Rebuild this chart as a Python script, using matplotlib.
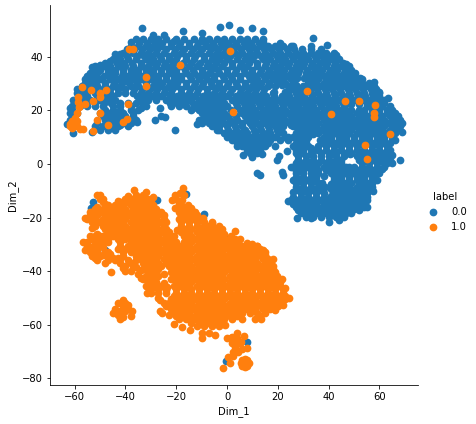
import matplotlib
matplotlib.use("Agg")
import matplotlib.pyplot as plt

# values: edge points are traced one by one, the dense
# inside of each cloud is listed row by row (Dim_2, [Dim_1 values])
blue_edge = [
    (-59, 28), (-53, 36), (-50, 37), (-46, 38.4), (-42, 41), (-38, 45.5), (-33.4, 50.6), (-29, 48), (-25, 48),
    (-21, 46), (-17.3, 49.7), (-10, 49), (-2.8, 51), (0.8, 52), (5, 50), (10, 50.6), (14, 49.6), (14, 45.5),
    (21, 45), (26, 44), (34, 47), (33, 44), (39.5, 44.4), (43, 40.7), (47, 37.3), (50.4, 34), (52.4, 32),
    (58, 30.6), (60, 27), (63.4, 24.6), (64, 21), (67.3, 18), (69, 12), (66, 9), (65, 3.4), (68, 1.5),
    (65, 0.4), (61, -2), (57.5, -10), (55, -16), (50, -17), (44, -21), (40, -21.6), (33, -20), (27.5, -20),
    (24, -14), (26, -10.4), (25, -1), (28, 1.5), (22, -4), (21.5, -3), (12, -3.5), (12.8, -4), (19.7, 1.5),
    (20.5, 3), (23.6, 5), (19, 6.5), (13.8, 3.7), (10, 2.6), (6.4, 3.4), (4, 6.5), (-0.8, 11.5), (0, 10),
    (-4, 12.7), (-12, 15), (-20.5, 12.7), (-13.4, 21), (-26.4, 21), (-28.3, 16.4), (-24.4, 17.5), (-26, 18),
    (-34, 21), (-35.4, 15.7), (-42, 14.6), (-53, 12), (-60.6, 11.5), (-63, 15), (-62, 21), (-60.6, 24),
    (-27.6, -13.4), (-16, -11.2), (-9, -18.7), (0.4, -28), (15, -34.7), (-0.4, -73.5), (7.9, -66.5),
    (-17.3, -18.3), (-6.3, -25.7), (-52.8, -14.2), (-53.5, -16.4), (-48, -32),
    # places inside the cloud that the rows leave open
    (19, 29), (21.5, 29.5), (20, 31), (18.5, 27), (23, 27), (27.5, 32), (30.5, 32), (30, 29), (27, 29.5),
    (22, 14), (24, 15.5), (22, 11.5), (21, 13), (25, 14.5), (24, 10), (31, 8.5), (36.5, 9), (34, 11), (33, 6),
    (34, 5), (36, 11.5), (38, -4.5), (41, -7.5), (38.5, -8.5), (41, -9.5), (37.5, -7), (41, -12), (48.5, 3.6),
    (48, -1), (49, 22.5), (52, 22.5), (52, 20), (49, 20), (-39, 22.8), (-44, 41), (-48, 37.5),
]
blue_rows = [
    (46.5, [-36, -33, -30, -27, -24, -20, -17, -13, -10, -7, -4, -1, 2, 5, 8, 11, 14]),
    (45.2, [-34.5, -31.5, -28.5, -25.5, -22, -18.5, -15, -11.5, -8.5, -5.5, -2.5, 0.5, 3.5, 6.5, 9.5, 12.5]),
    (44, [-38, -35, -32, -29, -26, -22, -19, -15, -12, -8, -5, -2, 1, 4, 7, 10, 13, 16, 19, 22, 25]),
    (42.8, [-39.5, -36.5, -33.5, -30.5, -27.5, -24, -20.5, -17, -13.5, -10, -6.5, -3.5, -0.5, 2.5, 5.5, 8.5, 11.5, 14.5, 17.5, 20.5, 23.5, 26.5, 29.5, 33, 37]),
    (41.5, [-41, -37, -34, -31, -28, -25, -21, -18, -14, -11, -7, -4, -1, 3, 6, 9, 12, 15, 18, 21, 24, 27, 30, 33, 36, 39, 42]),
    (40.2, [-43, -39.5, -35.5, -32.5, -29.5, -26.5, -23, -19.5, -16, -12.5, -9, -5.5, -2.5, 1, 4.5, 7.5, 10.5, 13.5, 16.5, 19.5, 22.5, 25.5, 28.5, 31.5, 34.5, 37.5, 40.5, 43]),
    (39, [-45, -42, -39, -36, -32, -29, -26, -23, -20, -16, -13, -9, -6, -3, 0, 4, 7, 10, 14, 17, 20, 23, 26, 29, 32, 35, 38, 41, 44]),
    (37.8, [-47, -43.5, -40.5, -37.5, -34, -30.5, -27.5, -24.5, -21, -17.5, -14, -10.5, -7.5, -4.5, -1, 2, 5.5, 8.5, 12, 15.5, 18.5, 21.5, 24.5, 27.5, 30.5, 33.5, 36.5, 39.5, 42.5, 45.5]),
    (36.5, [-52, -49, -46, -43, -40, -37, -34, -31, -28, -25, -22, -18, -15, -12, -8, -5, -2, 2, 5, 8, 12, 15, 18, 21, 24, 27, 30, 33, 36, 39, 42, 45, 48]),
    (35.2, [-52.5, -50, -47, -44, -41, -38, -35, -32, -29, -26, -23, -20, -16.5, -13.5, -10, -6.5, -3.5, 0, 3.5, 6.5, 10, 13.5, 16.5, 19.5, 22.5, 25.5, 28.5, 31.5, 34.5, 37.5, 40.5, 43.5, 46.5, 49]),
    (34, [-54, -51, -47, -44, -41, -38, -35, -32, -29, -26, -23, -20, -16, -13, -10, -7, -3, 0, 3, 7, 10, 13, 16, 19, 22, 25, 28, 31, 34, 37, 40, 43, 46, 49]),
    (32.8, [-55, -52, -48.5, -45, -41.5, -39, -36, -33, -30, -27, -24, -21, -18, -14.5, -11.5, -8.5, -5, -1.5, 1.5, 5, 8.5, 11.5, 14.5, 17.5, 20.5, 23.5, 26.5, 32, 35, 38, 41, 44, 47, 50]),
    (31.5, [-56, -53, -50, -46, -43, -40, -37, -34, -30, -27, -24, -21, -18, -14, -11, -8, -5, -1, 2, 5, 9, 12, 15, 18, 22, 25, 33, 36, 39, 42, 45, 48, 51, 53]),
    (30.2, [-56, -54.5, -51.5, -48, -44.5, -41.5, -38.5, -35.5, -32, -28.5, -25.5, -22.5, -19.5, -16, -12.5, -9.5, -6.5, -3, 0.5, 3.5, 7, 10.5, 13.5, 16.5, 23, 26, 32, 35, 38, 41, 44, 47, 50, 53, 56]),
    (29, [-57, -54, -51, -48, -45, -42, -38, -35, -32, -29, -26, -23, -20, -16, -13, -10, -6, -3, 0, 4, 7, 10, 13, 16, 24, 27, 31, 34, 37, 40, 43, 46, 49, 52, 55, 58]),
    (27.8, [-57.5, -55, -52, -49, -46, -43, -40, -36.5, -33.5, -30.5, -27.5, -24.5, -21.5, -18, -14.5, -11.5, -8, -4.5, -1.5, 2, 5.5, 8.5, 11.5, 14.5, 25.5, 28.5, 32.5, 35.5, 38.5, 41.5, 44.5, 47.5, 50.5, 53.5, 56.5, 58.5]),
    (26.5, [-59, -56, -52, -49, -46, -43, -40, -37, -34, -31, -28, -25, -22, -18, -15, -12, -8, -5, -2, 1, 5, 8, 11, 14, 18, 24, 27, 30, 33, 36, 39, 42, 45, 48, 51, 54, 57, 60]),
    (25.2, [-58, -55, -51, -48, -45, -35.5, -32.5, -29.5, -26, -22.5, -19.5, -16.5, -13, -9.5, -6.5, -3.5, 0, 3.5, 6.5, 9.5, 12.5, 15.5, 18.5, 21.5, 24.5, 27.5, 30.5, 33.5, 36.5, 39.5, 42.5, 45.5, 48.5, 51.5, 54.5, 57.5, 60]),
    (24, [-60, -57, -54, -50, -47, -44, -34, -31, -28, -24, -21, -18, -15, -11, -8, -5, -2, 2, 5, 8, 11, 14, 17, 20, 23, 26, 29, 32, 35, 38, 41, 44, 47, 50, 53, 56, 59, 62]),
    (22.8, [-60, -58.5, -55.5, -52, -48.5, -45.5, -42, -36, -33, -22.5, -19.5, -16.5, -13.5, -10, -7, -4, -1, 3.5, 6.5, 9.5, 12.5, 15.5, 18.5, 21.5, 24.5, 27.5, 30.5, 33.5, 36.5, 39.5, 42.5, 45.5, 48, 55, 58, 61, 62]),
    (21.5, [-61, -58, -55, -52, -49, -45, -42, -38, -32, -22, -19, -16, -12, -9, -6, -3, 0, 4, 7, 10, 13, 16, 19, 22, 25, 28, 31, 34, 37, 40, 43, 46, 55, 58, 61, 64]),
    (20.2, [-61, -48, -45, -42, -38, -35, -14, -11, -8, -5, -2, 1.5, 5, 8, 11, 14, 17, 20, 23, 26, 29, 32, 35, 38, 41, 44, 47, 54, 57, 60, 63, 65]),
    (19, [-62, -59, -50, -47, -44, -41, -37, -10, -7, -4, -1, 2, 6, 9, 12, 15, 18, 21, 24, 27, 30, 33, 36, 39, 42, 45, 48, 51, 54, 57, 60, 63, 66]),
    (17.8, [-61, -49, -46, -43, -40, -37, -9, -6, -3, 0, 3.5, 7, 10, 13, 16, 19, 22, 25, 28, 31, 34, 37, 40, 43, 46, 49, 52, 55, 58, 61, 64, 67]),
    (16.5, [-62, -60, -48, -45, -42, -38, -36, -11, -8, -5, -2, 1, 4, 8, 11, 14, 17, 20, 23, 26, 29, 32, 35, 38, 41, 44, 47, 50, 53, 56, 59, 62, 65, 68]),
    (15.2, [-60, -51, -47, -44, -41, -38, -10, -7, -4, -1, 2.5, 6, 9, 12, 15, 18, 21, 27, 30, 33, 36, 39, 42, 45, 48, 51, 54, 57, 60, 63, 66, 69]),
    (14, [-61, -52, -49, -46, -43, -39, -6, -3, 0, 3, 6, 10, 13, 16, 19, 26, 29, 32, 35, 38, 41, 44, 47, 50, 53, 56, 59, 62, 65, 68]),
    (12.8, [-50, -47, -44, -3, 0.5, 3.5, 7, 10.5, 13.5, 16.5, 19.5, 28, 31, 34, 37, 40, 43, 46, 49, 52, 55, 58, 61, 64, 67]),
    (11.5, [-1, 2, 5, 8, 11, 14, 17, 20, 27, 30, 33, 39, 42, 45, 48, 51, 54, 57, 60, 63, 66]),
    (10.2, [1, 4, 7, 10, 13, 16, 19, 23, 26, 29, 32, 38, 41, 44, 47, 50, 53, 56, 59, 62, 65]),
    (9, [2, 5, 8, 11, 14, 17, 21, 24, 28, 38, 41, 44, 47, 50, 53, 56, 59, 62, 65]),
    (7.8, [4, 7, 10, 13, 16, 27, 30, 37, 40, 43, 46, 49, 52, 55, 58, 61, 64]),
    (6.5, [6, 9, 12, 15, 26, 29, 32, 36, 39, 42, 45, 48, 51, 54, 57, 60, 63]),
    (5.2, [8, 11, 13, 27, 30, 33, 36, 39, 42, 45, 48, 51, 54, 57, 60, 63, 64]),
    (4, [9, 12, 27, 30, 33, 37, 40, 43, 46, 49, 52, 55, 58, 61, 64]),
    (2.8, [28, 31, 34, 37, 40, 43, 46, 51, 54, 57, 60, 63]),
    (1.5, [28, 31, 34, 37, 40, 43, 45, 52, 55, 58, 61, 64]),
    (0.2, [27, 30, 33, 36, 39, 42, 45, 53, 56, 59, 62, 63]),
    (-1, [26, 29, 32, 35, 38, 41, 44, 47, 50, 53, 56, 59, 62]),
    (-2.2, [27, 30, 33, 36, 39, 42, 45, 48, 51, 54, 57, 60]),
    (-3.5, [27, 30, 33, 36, 41, 44, 47, 50, 53, 56, 59, 60]),
    (-4.8, [27, 30, 33, 35, 42, 45, 48, 51, 54, 57, 58]),
    (-6, [26, 29, 32, 35, 42, 45, 48, 51, 54, 57, 59]),
    (-7.2, [27, 30, 33, 36, 43, 46, 49, 52, 55, 57]),
    (-8.5, [27, 30, 33, 36, 42, 45, 48, 51, 54, 57]),
    (-9.8, [28, 31, 34, 37, 44, 47, 50, 53, 56]),
    (-11, [29, 32, 35, 38, 43, 46, 49, 52, 55]),
    (-12.2, [26, 29, 32, 35, 38, 41, 44, 47, 50, 53, 55]),
    (-13.5, [25, 28, 31, 34, 37, 40, 43, 46, 49, 52, 55]),
    (-14.8, [26, 29, 32, 35, 38, 41, 44, 47, 50, 53]),
    (-16, [27, 30, 33, 36, 39, 42, 45, 48, 51, 54]),
    (-17.2, [28, 31, 34, 37, 40, 43, 46, 49, 52]),
    (-18.5, [29, 32, 35, 38, 41, 44, 47, 49]),
    (-19.8, [31, 34, 37, 40, 43, 46]),
]

orange_edge = [
    (-51, -11.6), (-54, -18), (-56, -20), (-45, -16), (-43, -14), (-39, -12), (-36.6, -9.7), (-32, -10.4),
    (-29, -12.3), (-53, -24), (-56.7, -29), (-56, -32), (-51, -36), (-48, -37), (-45, -35), (-49, -31),
    (-50, -27), (-45.6, -40.4), (-43, -35), (-41, -39), (-40, -40), (-36, -36), (-34, -39.6), (-34, -42.5),
    (-31.5, -48), (-27, -50), (-45, -55.6), (-42, -58), (-38, -56.7), (-39, -52.6), (-41, -50.7), (-43, -52),
    (-42, -55), (-40, -55), (-26.4, -50.7), (-26.4, -55), (-17.3, -9), (-20.5, -11.6), (-21.6, -13.4),
    (-17.7, -13.4), (-20.5, -16.4), (-15.3, -15.3), (-12.6, -17.9), (-17.7, -20), (-19.7, -24.6), (-9.4, -20),
    (-6, -22), (-2.8, -24.3), (3.1, -25), (-4, -27), (0, -28.4), (7.9, -29.5), (11.8, -30.6), (14, -32),
    (18, -35.4), (19.7, -42), (21.7, -43), (22.8, -46.3), (24.4, -50), (22, -52.6), (18.9, -54.5), (13.4, -58),
    (5.9, -58), (-0.8, -60), (-4.7, -63.8), (-9.8, -65), (-14.6, -62), (-17.7, -60.8), (-20.9, -59.7),
    (-23, -56.3), (-25.6, -55.6), (0, -65), (3.9, -63), (6.7, -64.2), (7.9, -68.7), (4.3, -70), (2, -66.8),
    (0.4, -72), (1.2, -74.3), (-1.6, -76), (3, -67), (4, -65), (5, -67), (2.5, -70),
    # places the rows leave open
    (-54, -27), (-52, -29), (-55, -30), (-53, -31), (-51, -33), (-49, -34), (-46, -33.5), (-52, -35),
    (-47, -36), (-44, -36), (-47, -33), (-51, -26), (-49, -28.5), (-47, -29), (-48, -15), (-53, -19),
    (-51, -16), (-49, -13), (-44, -54), (-41, -53), (-39, -54), (-43, -56.5), (-41, -57), (-40, -52),
    (-37.5, -55), (-39, -36), (-42, -37), (-40, -38), (-37, -38), (-38, -40), (-35, -41), (-36, -38.5),
    (3, -68.5), (6, -69), (2.5, -71.5), (5.5, -66.5), (2, -64.5), (1.5, -65), (-20, -13), (-18.5, -11),
    (-17, -11.5), (-19, -15), (-19, -18), (-15.8, -17), (-18, -17), (-14, -16.5), (-13, -20), (-11, -21),
    (-8, -23), (-5, -24), (-1, -26), (1.5, -27), (5, -28), (10, -30), (15, -34), (13, -33.5), (17, -37),
    (-25, -41), (-25, -44.5), (-27, -42), (-27.5, -45), (-24, -47), (-23.5, -46), (-24, -48), (-25, -52),
    # the big blob near the bottom
    (7, -74.3), (8.5, -74.3), (5.5, -74.3), (7, -72.9), (7, -75.7), (8, -73.3), (6, -73.3), (8, -75.3), (6, -75.3),
    # single points lying on the blue cloud
    (-38.5, 43), (-37, 43), (-18.5, 36.9), (1.2, 42.2), (-32, 32.4), (-32, 29), (2.4, 19.5), (-57, 28.6),
    (-53.5, 27.5), (-47.6, 27.5), (-50, 26.5), (-50, 25), (-58.7, 25), (-52.7, 23.5), (-58.7, 23), (-58.3, 21.3),
    (-56, 22.4), (-59, 19), (-39, 22.4), (-50, 19), (-51, 16.4), (-41, 15.7), (-39.4, 16.8), (-47, 14.6),
    (-52.7, 12.3), (-62, 15), (-61, 13.5), (-60, 15), (-60, 17), (-59, 14), (-58, 13), (-61, 16), (-62, 14),
    (-59, 16), (-56.7, 13), (31.5, 27.2), (46.5, 23.5), (52, 23.5), (58.3, 22), (57.9, 19), (57.9, 17.5),
    (41, 18.6), (64.2, 11.2), (54.3, 7), (55.3, 1.9),
]
orange_rows = [
    (-11.5, [-36, -33, -50]),
    (-13, [-50, -40, -37, -34, -31]),
    (-14.2, [-49, -42, -39, -36, -33, -30, -19]),
    (-15.5, [-47, -44, -41, -38, -35, -32, -29, -18]),
    (-16.8, [-52, -49, -46, -43, -40, -37, -34, -31, -28, -17]),
    (-18, [-53, -50, -47, -44, -41, -38, -35, -32, -29, -26, -16, -13]),
    (-19.2, [-54, -51, -48, -45, -42, -39, -36, -33, -30, -27, -25, -18, -15, -12]),
    (-20.5, [-55, -52, -49, -46, -43, -40, -37, -34, -31, -28, -25, -19, -16, -13, -10]),
    (-21.8, [-53, -50, -47, -44, -41, -38, -35, -32, -29, -26, -24, -18, -15, -12, -9, -6]),
    (-23, [-52, -49, -46, -43, -40, -37, -34, -31, -28, -25, -18, -15, -12, -9, -6, -3]),
    (-24.2, [-48, -45, -42, -39, -36, -33, -30, -27, -24, -17, -14, -11, -8, -5, -2]),
    (-25.5, [-47, -44, -41, -38, -35, -32, -29, -26, -23, -18, -15, -12, -9, -6, -3]),
    (-26.8, [-52, -49, -45, -42, -39, -36, -33, -30, -27, -24, -21, -17, -14, -11, -8, -5, -2]),
    (-28, [-53, -50, -47, -43, -40, -37, -34, -31, -28, -25, -22, -16, -13, -10, -7, -3, 3]),
    (-29.2, [-55, -52, -49, -42, -38, -35, -32, -29, -26, -23, -20, -17, -14, -11, -8, -5, -2, 1, 4]),
    (-30.5, [-55, -52, -50, -42, -39, -36, -33, -30, -27, -24, -21, -18, -15, -12, -9, -6, -3, 0, 3, 6, 9, 12]),
    (-31.8, [-54, -51, -43, -40, -37, -34, -31, -28, -25, -22, -19, -16, -13, -10, -7, -4, -1, 2, 5, 8, 11, 13]),
    (-33, [-54, -51, -48, -41, -38, -35, -32, -29, -26, -23, -20, -17, -14, -11, -8, -5, -2, 1, 4, 7, 10, 13, 15]),
    (-34.2, [-53, -50, -47, -41, -36, -33, -30, -27, -24, -21, -18, -15, -12, -9, -6, -3, 0, 3, 6, 9, 12, 15]),
    (-35.5, [-42, -34, -31, -28, -25, -22, -19, -16, -13, -10, -7, -4, -1, 2, 5, 8, 11, 14, 16]),
    (-36.8, [-38, -33, -30, -27, -24, -21, -18, -15, -12, -9, -6, -3, 0, 3, 6, 9, 12, 15, 17]),
    (-38, [-32, -29, -26, -23, -20, -17, -14, -11, -8, -5, -2, 1, 4, 7, 10, 13, 16, 18]),
    (-39.2, [-33, -30, -27, -21, -18, -15, -12, -9, -6, -3, 0, 3, 6, 9, 12, 15, 18]),
    (-40.5, [-31, -28, -22, -19, -16, -13, -10, -7, -4, -1, 2, 5, 8, 11, 14, 17, 19]),
    (-41.8, [-32, -29, -20, -17, -14, -11, -8, -5, -2, 1, 4, 7, 10, 13, 16, 19]),
    (-43, [-33, -30, -22, -19, -16, -13, -10, -7, -4, -1, 2, 5, 8, 11, 14, 17, 20]),
    (-44.2, [-31, -28, -20, -17, -14, -11, -8, -5, -2, 1, 4, 7, 10, 13, 16, 19, 21]),
    (-45.5, [-32, -29, -26, -21, -18, -15, -12, -9, -6, -3, 0, 3, 6, 9, 12, 15, 18, 21]),
    (-46.8, [-30, -27, -24, -20, -17, -14, -11, -8, -5, -2, 1, 4, 7, 10, 13, 16, 19, 22]),
    (-48, [-30, -27, -20, -17, -14, -11, -8, -5, -2, 1, 4, 7, 10, 13, 16, 19, 22]),
    (-49.2, [-21, -18, -15, -12, -9, -6, -3, 0, 3, 6, 9, 12, 15, 18, 21, 23]),
    (-50.5, [-22, -19, -16, -13, -10, -7, -4, -1, 2, 5, 8, 11, 14, 17, 20, 23]),
    (-51.8, [-23, -20, -17, -14, -11, -8, -5, -2, 1, 4, 7, 10, 13, 16, 19, 21]),
    (-53, [-24, -21, -18, -15, -12, -9, -6, -3, 0, 3, 6, 9, 12, 15, 18, 20]),
    (-54.2, [-22, -19, -16, -13, -10, -7, -4, -1, 2, 5, 8, 11, 14, 17]),
    (-55.5, [-21, -18, -15, -12, -9, -6, -3, 0, 3, 6, 9, 12, 15]),
    (-56.8, [-20, -17, -14, -11, -8, -5, -2, 1, 4, 13]),
    (-58, [-19, -16, -13, -10, -7, -4, -1, 2, 11]),
    (-59.2, [-14, -11, -8, -5, -2]),
    (-60.5, [-12, -9, -6, -3]),
    (-63, [-10, -7]),
]

x_ticks = [-60, -40, -20, 0, 20, 40, 60]
y_ticks = [-80, -60, -40, -20, 0, 20, 40]
labels = ["0.0", "1.0"]


def unpack(edge, rows):
    xs = [p[0] for p in edge]
    ys = [p[1] for p in edge]
    for y, row in rows:
        xs += row
        ys += [y] * len(row)
    return xs, ys


def draw():
    fig = plt.figure(figsize=(476 / 72, 424 / 72), dpi=72)
    ax = fig.add_axes([50 / 476, 39 / 424, 368 / 476, 380 / 424])

    bx, by = unpack(blue_edge, blue_rows)
    ox, oy = unpack(orange_edge, orange_rows)
    ax.scatter(bx, by, s=60, color="#1f77b4", linewidths=0, label=labels[0])
    ax.scatter(ox, oy, s=60, color="#ff7f0e", linewidths=0, label=labels[1])

    ax.set_xlim(-69.7, 75.2)
    ax.set_ylim(-82.5, 59.3)
    ax.set_xticks(x_ticks)
    ax.set_yticks(y_ticks)
    ax.set_xlabel("Dim_1")
    ax.set_ylabel("Dim_2")
    ax.spines["top"].set_visible(False)
    ax.spines["right"].set_visible(False)

    fig.legend(title="label", frameon=False, loc="center left",
               bbox_to_anchor=(414 / 476, 1 - 212 / 424), scatterpoints=1)
    fig.savefig("out.png", dpi=72)


def main():
    draw()


if __name__ == '__main__':
    main()
